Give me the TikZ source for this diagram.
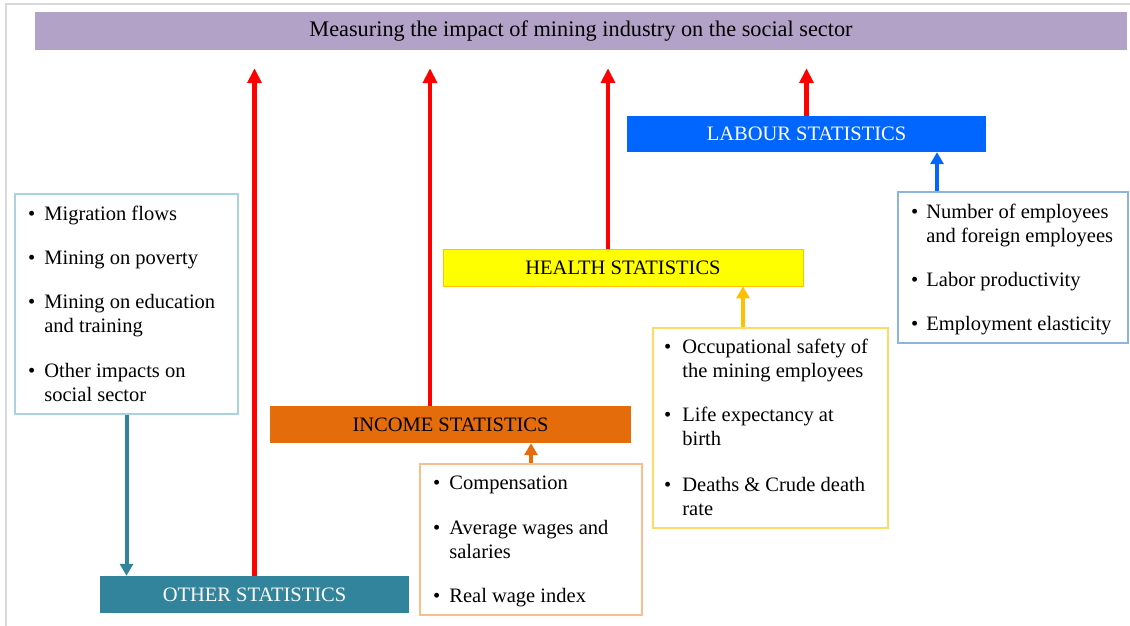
\documentclass[tikz,border=0pt]{standalone}
\usepackage{fontspec}
\setmainfont{Liberation Serif}
\usetikzlibrary{arrows.meta}
\definecolor{titlefill}{HTML}{B3A2C7}
\definecolor{labfill}{HTML}{0066FF}
\definecolor{labline}{HTML}{8DB3E2}
\definecolor{healthfill}{HTML}{FFFF00}
\definecolor{healthedge}{HTML}{FFC000}
\definecolor{healthline}{HTML}{FFD966}
\definecolor{incfill}{HTML}{E46C0A}
\definecolor{incline}{HTML}{F9BE8F}
\definecolor{othfill}{HTML}{31849B}
\definecolor{othline}{HTML}{A9D3DE}
\definecolor{framegray}{HTML}{D9D9D9}
\definecolor{redarr}{HTML}{FF0000}
\newcommand{\listfont}{\fontsize{20.5}{24}\selectfont}
\begin{document}
\begin{tikzpicture}[x=1pt,y=-1pt,
  catbox/.style={rectangle, inner sep=0pt, font=\fontsize{20.5}{22}\selectfont},
  listbox/.style={rectangle, inner sep=0pt, fill=white, line width=1.3pt},
  listtext/.style={anchor=base west, inner sep=0pt, font=\listfont},
  bigarrow/.style={draw=redarr, line width=4.5pt, -{Triangle[width=14pt,length=15pt]}},
  smallarrow/.style={line width=4pt, -{Triangle[width=13pt,length=12pt]}}
]
\useasboundingbox (0,0) rectangle (1130,626);
\fill[white] (0,0) rectangle (1130,626);
% window frame
\coordinate (ftl) at (6,4);
\coordinate (ftr) at (1130,4);
\coordinate (fbl) at (6,626);
\draw[framegray, line width=2pt] (ftr) -- (ftl) -- (fbl);

% title
\node[catbox, fill=titlefill, minimum width=1092pt, minimum height=38pt, font=\fontsize{22.3}{24}\selectfont] (title) at (581,31) {Measuring the impact of mining industry on the social sector};

% category boxes
\node[catbox, fill=labfill, text=white, minimum width=359pt, minimum height=36pt] (labour) at (806.5,134) {LABOUR STATISTICS};
\node[catbox, fill=healthfill, draw=healthedge, line width=0.8pt, minimum width=360pt, minimum height=37pt] (health) at (623,267.5) {HEALTH STATISTICS};
\node[catbox, fill=incfill, minimum width=361pt, minimum height=37pt] (income) at (450.5,424.5) {INCOME STATISTICS};
\node[catbox, fill=othfill, text=white, minimum width=309pt, minimum height=37pt] (other) at (254.5,594.5) {OTHER STATISTICS};

% list boxes
\node[listbox, draw=othline, minimum width=223pt, minimum height=220pt] (othlist) at (126.5,304) {};
\node[listbox, draw=labline, minimum width=230pt, minimum height=151pt] (lablist) at (1013,267.5) {};
\node[listbox, draw=healthline, minimum width=235pt, minimum height=200pt] (healthlist) at (770.5,428) {};
\node[listbox, draw=incline, minimum width=222pt, minimum height=151pt] (inclist) at (531,539.5) {};

% list texts
\node[listtext] (othtxt) at (28,220) {\begin{tabular}[t]{@{}l@{\hspace{9pt}}l@{}}
\textbullet & Migration flows\\[20pt]
\textbullet & Mining on poverty\\[20pt]
\textbullet & Mining on education\\
 & and training\\[21pt]
\textbullet & Other impacts on\\
 & social sector
\end{tabular}};
\node[listtext] (labtxt) at (911,218) {\begin{tabular}[t]{@{}l@{\hspace{8pt}}l@{}}
\textbullet & Number of employees\\
 & and foreign employees\\[20pt]
\textbullet & Labor productivity\\[20pt]
\textbullet & Employment elasticity
\end{tabular}};
\node[listtext] (healthtxt) at (664,353) {\begin{tabular}[t]{@{}l@{\hspace{11pt}}l@{}}
\textbullet & Occupational safety of\\
 & the mining employees\\[20pt]
\textbullet & Life expectancy at\\
 & birth\\[22pt]
\textbullet & Deaths \& Crude death\\
 & rate
\end{tabular}};
\node[listtext] (inctxt) at (433,489) {\begin{tabular}[t]{@{}l@{\hspace{9pt}}l@{}}
\textbullet & Compensation\\[21pt]
\textbullet & Average wages and\\
 & salaries\\[20pt]
\textbullet & Real wage index
\end{tabular}};

% red arrows to title
\draw[bigarrow, shorten >=18pt] (other.north) -- (other.north |- title.south);
\draw[bigarrow, shorten >=18pt] ([xshift=-20.5pt]income.north) -- ([xshift=-20.5pt]income.north |- title.south);
\draw[bigarrow, shorten >=18pt] ([xshift=-15pt]health.north) -- ([xshift=-15pt]health.north |- title.south);
\draw[bigarrow, shorten >=18pt] (labour.north) -- (labour.north |- title.south);

% list arrows
\draw[smallarrow, labfill] ([xshift=-76pt]lablist.north) -- ([xshift=-76pt]lablist.north |- labour.south);
\draw[smallarrow, healthedge] ([xshift=-27.5pt]healthlist.north) -- ([xshift=-27.5pt]healthlist.north |- health.south);
\draw[smallarrow, incfill] (inclist.north) -- (inclist.north |- income.south);
\draw[smallarrow, othfill] (othlist.south) -- (othlist.south |- other.north);
\end{tikzpicture}
\end{document}
